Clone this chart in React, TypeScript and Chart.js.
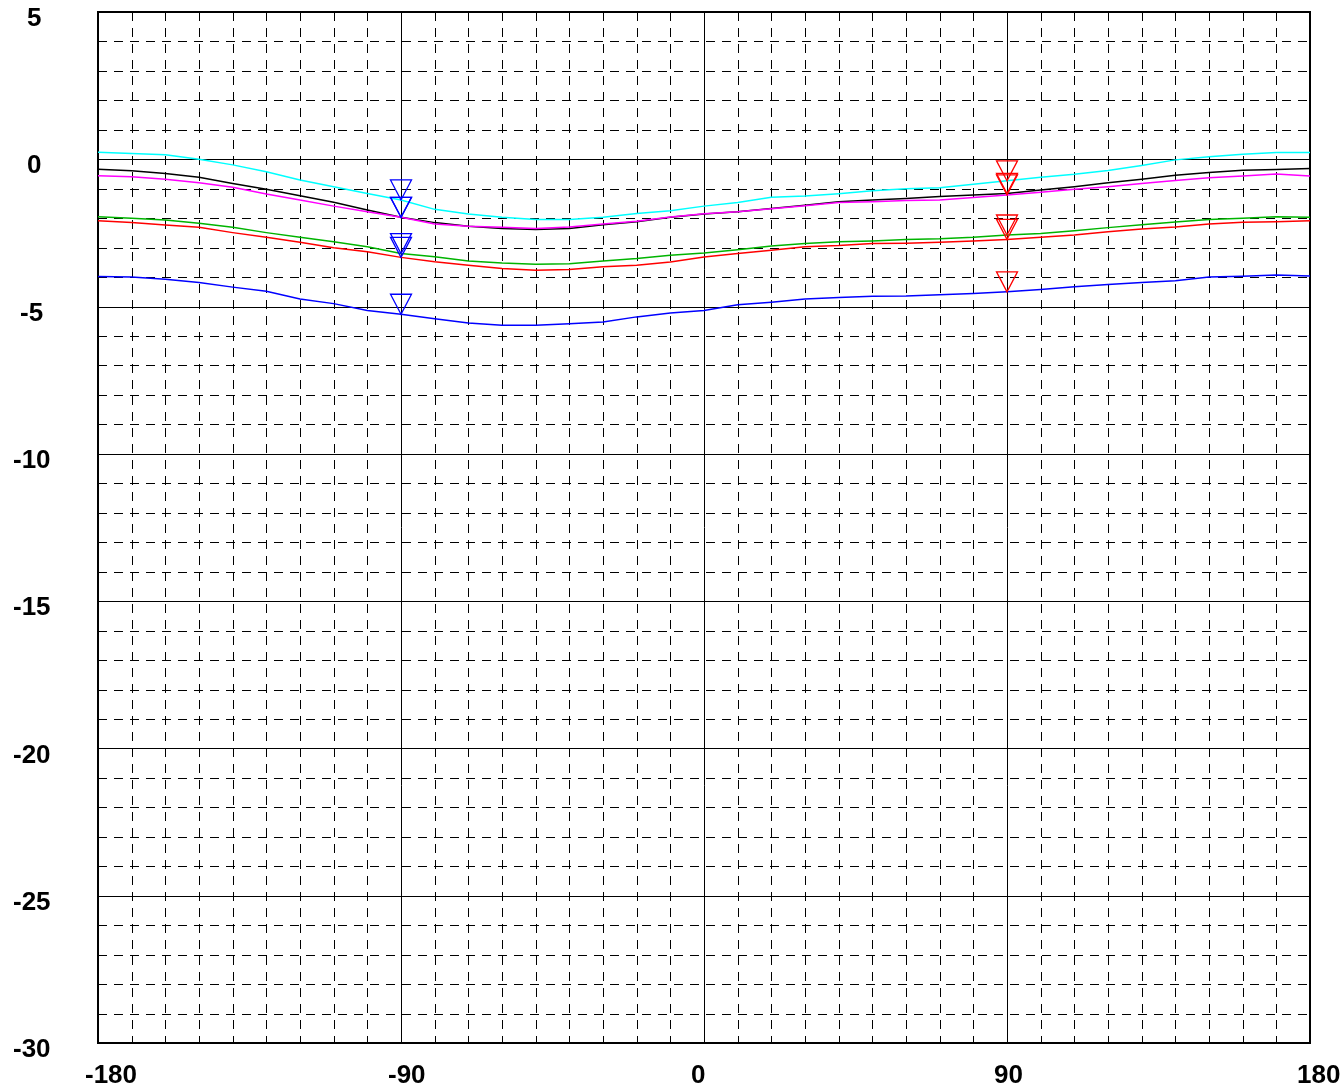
import React, { useEffect, useRef } from "react";
import { Chart, registerables } from "chart.js";

Chart.register(...registerables);

const angles = [-180, -170, -160, -150, -140, -130, -120, -110, -100, -90, -80, -70, -60, -50, -40, -30, -20, -10, 0, 10, 20, 30, 40, 50, 60, 70, 80, 90, 100, 110, 120, 130, 140, 150, 160, 170, 180];

const cyanSeries = [0.24, 0.2, 0.15, 0.0, -0.19, -0.42, -0.7, -0.93, -1.16, -1.38, -1.7, -1.86, -1.97, -2.04, -2.04, -1.97, -1.84, -1.75, -1.59, -1.47, -1.29, -1.25, -1.17, -1.07, -1.0, -0.97, -0.85, -0.73, -0.61, -0.51, -0.38, -0.21, -0.02, 0.09, 0.17, 0.23, 0.23];
const blackSeries = [-0.34, -0.39, -0.48, -0.61, -0.82, -1.02, -1.24, -1.46, -1.72, -1.97, -2.15, -2.27, -2.35, -2.38, -2.35, -2.22, -2.12, -1.97, -1.86, -1.78, -1.67, -1.56, -1.44, -1.38, -1.33, -1.26, -1.21, -1.16, -1.04, -0.93, -0.8, -0.68, -0.54, -0.45, -0.37, -0.35, -0.31];
const magentaSeries = [-0.56, -0.59, -0.68, -0.8, -0.95, -1.18, -1.38, -1.59, -1.78, -1.97, -2.2, -2.27, -2.31, -2.35, -2.3, -2.2, -2.1, -1.96, -1.85, -1.78, -1.68, -1.58, -1.47, -1.44, -1.4, -1.38, -1.3, -1.21, -1.12, -1.02, -0.93, -0.82, -0.72, -0.63, -0.57, -0.5, -0.57];
const greenSeries = [-1.95, -2.0, -2.06, -2.17, -2.31, -2.49, -2.65, -2.8, -2.97, -3.2, -3.31, -3.45, -3.52, -3.56, -3.55, -3.45, -3.37, -3.26, -3.18, -3.07, -2.94, -2.86, -2.8, -2.77, -2.72, -2.7, -2.65, -2.57, -2.52, -2.43, -2.32, -2.22, -2.13, -2.04, -2.0, -1.95, -1.97];
const redSeries = [-2.09, -2.15, -2.23, -2.31, -2.49, -2.65, -2.82, -3.0, -3.14, -3.33, -3.48, -3.6, -3.71, -3.77, -3.74, -3.65, -3.6, -3.49, -3.32, -3.2, -3.09, -2.97, -2.93, -2.86, -2.85, -2.82, -2.77, -2.72, -2.65, -2.57, -2.46, -2.37, -2.3, -2.2, -2.14, -2.12, -2.09];
const blueSeries = [-3.98, -4.0, -4.07, -4.18, -4.34, -4.48, -4.74, -4.9, -5.13, -5.26, -5.41, -5.56, -5.63, -5.63, -5.58, -5.52, -5.35, -5.22, -5.13, -4.94, -4.85, -4.74, -4.69, -4.65, -4.64, -4.6, -4.56, -4.5, -4.42, -4.33, -4.25, -4.18, -4.12, -4.0, -3.97, -3.93, -3.96];

const seriesList = [
  { name: "cyan", values: cyanSeries, color: "#00ffff" },
  { name: "magenta", values: magentaSeries, color: "#ff00ff" },
  { name: "black", values: blackSeries, color: "#000000" },
  { name: "green", values: greenSeries, color: "#00b400" },
  { name: "red", values: redSeries, color: "#ff0000" },
  { name: "blue", values: blueSeries, color: "#0000ff" },
];

const markerAngles = [-90, 90];
const markerColors = ["#0000ff", "#ff0000"];

const xTickLabels = [-180, -90, 0, 90, 180];
const yTickLabels = [5, 0, -5, -10, -15, -20, -25, -30];
const xMin = -180, xMax = 180, xMinorStep = 10, xMajorStep = 90;
const yMin = -30, yMax = 5, yMinorStep = 1, yMajorStep = 5;

const FONT = "bold 26px 'Liberation Sans', Arial, sans-serif";

const gridPlugin = {
  id: "customGrid",
  beforeDatasetsDraw(chart: any) {
    const { ctx, chartArea, scales } = chart;
    const { left, right, top, bottom } = chartArea;
    const x = scales.x, y = scales.y;
    ctx.save();
    ctx.strokeStyle = "#000";
    ctx.lineWidth = 1;
    // minor dashed
    ctx.setLineDash([9, 7]);
    for (let v = xMin + xMinorStep; v < xMax; v += xMinorStep) {
      if (v % xMajorStep === 0) continue;
      const px = Math.round(x.getPixelForValue(v)) + 0.5;
      ctx.beginPath();
      ctx.moveTo(px, top);
      ctx.lineTo(px, bottom);
      ctx.stroke();
    }
    for (let v = yMin + yMinorStep; v < yMax; v += yMinorStep) {
      if (v % yMajorStep === 0) continue;
      const py = Math.round(y.getPixelForValue(v)) + 0.5;
      ctx.beginPath();
      ctx.moveTo(left, py);
      ctx.lineTo(right, py);
      ctx.stroke();
    }
    ctx.setLineDash([]);
    // small ticks at bottom axis
    for (let v = xMin + xMinorStep; v < xMax; v += xMinorStep) {
      const px = Math.round(x.getPixelForValue(v)) + 0.5;
      ctx.beginPath();
      ctx.moveTo(px, bottom - 3);
      ctx.lineTo(px, bottom);
      ctx.stroke();
    }
    // major solid
    for (let v = xMin + xMajorStep; v < xMax; v += xMajorStep) {
      const px = Math.round(x.getPixelForValue(v)) + 0.5;
      ctx.beginPath();
      ctx.moveTo(px, top);
      ctx.lineTo(px, bottom);
      ctx.stroke();
    }
    for (let v = yMin + yMajorStep; v < yMax; v += yMajorStep) {
      const py = Math.round(y.getPixelForValue(v)) + 0.5;
      ctx.beginPath();
      ctx.moveTo(left, py);
      ctx.lineTo(right, py);
      ctx.stroke();
    }
    ctx.lineWidth = 2;
    ctx.strokeRect(left, top, right - left, bottom - top);
    ctx.restore();
  },
  afterDatasetsDraw(chart: any) {
    const { ctx, scales } = chart;
    const x = scales.x, y = scales.y;
    ctx.save();
    ctx.lineWidth = 1.3;
    markerAngles.forEach((ang, mi) => {
      const idx = angles.indexOf(ang);
      const px = x.getPixelForValue(ang);
      ctx.strokeStyle = markerColors[mi];
      seriesList.forEach((s) => {
        const py = y.getPixelForValue(s.values[idx]);
        ctx.beginPath();
        ctx.moveTo(px, py);
        ctx.lineTo(px - 10.5, py - 20);
        ctx.lineTo(px + 10.5, py - 20);
        ctx.closePath();
        ctx.stroke();
      });
    });
    ctx.restore();
  },
  afterDraw(chart: any) {
    const { ctx, chartArea, scales } = chart;
    const x = scales.x, y = scales.y;
    ctx.save();
    ctx.fillStyle = "#000";
    ctx.font = FONT;
    ctx.textBaseline = "middle";
    ctx.textAlign = "left";
    xTickLabels.forEach((v) => {
      const px = x.getPixelForValue(v);
      ctx.fillText(String(v), px - 13, chartArea.bottom + 33);
    });
    yTickLabels.forEach((v) => {
      const py = y.getPixelForValue(v);
      const txt = String(v);
      const pad = ctx.measureText("-10").width - ctx.measureText(txt).width;
      ctx.fillText(txt, 13 + (txt.length === 1 ? 14 : pad > 0 ? 7 : 0), py + 7);
    });
    ctx.restore();
  },
};

export default function App() {
  const canvasRef = useRef<HTMLCanvasElement | null>(null);

  useEffect(() => {
    document.body.style.margin = "0";
    const canvas = canvasRef.current;
    if (!canvas) return;
    const chart = new Chart(canvas, {
      type: "line",
      data: {
        datasets: seriesList.map((s) => ({
          label: s.name,
          data: angles.map((a, i) => ({ x: a, y: s.values[i] })),
          borderColor: s.color,
          backgroundColor: s.color,
          borderWidth: 1.5,
          pointRadius: 0,
          tension: 0,
          fill: false,
        })),
      },
      options: {
        animation: false,
        responsive: false,
        maintainAspectRatio: false,
        layout: { padding: { left: 98, right: 31, top: 12, bottom: 48 } },
        plugins: { legend: { display: false }, tooltip: { enabled: false } },
        scales: {
          x: { type: "linear", min: xMin, max: xMax, display: false },
          y: { type: "linear", min: yMin, max: yMax, display: false },
        },
      },
      plugins: [gridPlugin],
    });
    return () => chart.destroy();
  }, []);

  return (
    <div style={{ width: 1341, height: 1091, background: "#fff" }}>
      <canvas ref={canvasRef} width={1341} height={1091} style={{ display: "block" }} />
    </div>
  );
}
